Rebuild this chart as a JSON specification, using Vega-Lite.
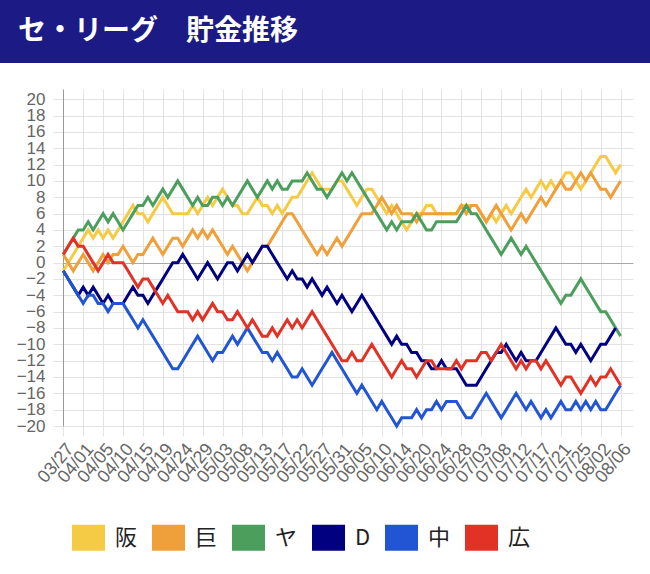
{
"$schema": "https://vega.github.io/schema/vega-lite/v6.json",
"background": "white",
"padding": 0,
"spacing": 26,
"config": {"font": "Liberation Sans", "view": {"stroke": null}},
"vconcat": [
{
"width": 650, "height": 63,
"view": {"fill": "#1c1a85", "stroke": null},
"data": {"values": [{"label": "セ・リーグ　貯金推移"}]},
"layer": [
{"mark": {"type": "rect", "color": "#1c1a85"}, "encoding": {}},
{"mark": {"type": "text", "align": "left", "baseline": "middle", "color": "white", "font": "Noto Sans CJK JP", "fontWeight": "bold", "fontSize": 28},
 "encoding": {"text": {"field": "label"}, "x": {"value": 18}, "y": {"value": 32}}}
]
},
{
"width": 633, "height": 337,
"data": {"values": [
{"t":"阪","g":0,"v":-1},{"t":"阪","g":1,"v":0},{"t":"阪","g":2,"v":1},{"t":"阪","g":3,"v":2},{"t":"阪","g":4,"v":3},{"t":"阪","g":5,"v":4},{"t":"阪","g":6,"v":3},{"t":"阪","g":7,"v":4},{"t":"阪","g":8,"v":3},{"t":"阪","g":9,"v":4},
{"t":"阪","g":10,"v":3},{"t":"阪","g":11,"v":4},{"t":"阪","g":12,"v":5},{"t":"阪","g":13,"v":6},{"t":"阪","g":14,"v":7},{"t":"阪","g":15,"v":6},{"t":"阪","g":16,"v":6},{"t":"阪","g":17,"v":5},{"t":"阪","g":18,"v":6},{"t":"阪","g":19,"v":7},
{"t":"阪","g":20,"v":8},{"t":"阪","g":21,"v":7},{"t":"阪","g":22,"v":6},{"t":"阪","g":23,"v":6},{"t":"阪","g":24,"v":6},{"t":"阪","g":25,"v":6},{"t":"阪","g":26,"v":7},{"t":"阪","g":27,"v":6},{"t":"阪","g":28,"v":7},{"t":"阪","g":29,"v":8},
{"t":"阪","g":30,"v":7},{"t":"阪","g":31,"v":8},{"t":"阪","g":32,"v":9},{"t":"阪","g":33,"v":8},{"t":"阪","g":34,"v":7},{"t":"阪","g":35,"v":7},{"t":"阪","g":36,"v":6},{"t":"阪","g":37,"v":6},{"t":"阪","g":38,"v":7},{"t":"阪","g":39,"v":8},
{"t":"阪","g":40,"v":7},{"t":"阪","g":41,"v":7},{"t":"阪","g":42,"v":6},{"t":"阪","g":43,"v":7},{"t":"阪","g":44,"v":6},{"t":"阪","g":45,"v":7},{"t":"阪","g":46,"v":8},{"t":"阪","g":47,"v":8},{"t":"阪","g":48,"v":9},{"t":"阪","g":49,"v":10},
{"t":"阪","g":50,"v":11},{"t":"阪","g":51,"v":10},{"t":"阪","g":52,"v":9},{"t":"阪","g":53,"v":9},{"t":"阪","g":54,"v":9},{"t":"阪","g":55,"v":10},{"t":"阪","g":56,"v":10},{"t":"阪","g":57,"v":9},{"t":"阪","g":58,"v":8},{"t":"阪","g":59,"v":7},
{"t":"阪","g":60,"v":8},{"t":"阪","g":61,"v":9},{"t":"阪","g":62,"v":9},{"t":"阪","g":63,"v":8},{"t":"阪","g":64,"v":7},{"t":"阪","g":65,"v":6},{"t":"阪","g":66,"v":7},{"t":"阪","g":67,"v":6},{"t":"阪","g":68,"v":5},{"t":"阪","g":69,"v":4},
{"t":"阪","g":70,"v":5},{"t":"阪","g":71,"v":6},{"t":"阪","g":72,"v":6},{"t":"阪","g":73,"v":7},{"t":"阪","g":74,"v":7},{"t":"阪","g":75,"v":6},{"t":"阪","g":76,"v":6},{"t":"阪","g":77,"v":6},{"t":"阪","g":78,"v":6},{"t":"阪","g":79,"v":6},
{"t":"阪","g":80,"v":7},{"t":"阪","g":81,"v":7},{"t":"阪","g":82,"v":7},{"t":"阪","g":83,"v":7},{"t":"阪","g":84,"v":6},{"t":"阪","g":85,"v":5},{"t":"阪","g":86,"v":6},{"t":"阪","g":87,"v":5},{"t":"阪","g":88,"v":6},{"t":"阪","g":89,"v":7},
{"t":"阪","g":90,"v":6},{"t":"阪","g":91,"v":7},{"t":"阪","g":92,"v":8},{"t":"阪","g":93,"v":9},{"t":"阪","g":94,"v":8},{"t":"阪","g":95,"v":9},{"t":"阪","g":96,"v":10},{"t":"阪","g":97,"v":9},{"t":"阪","g":98,"v":10},{"t":"阪","g":99,"v":9},
{"t":"阪","g":100,"v":10},{"t":"阪","g":101,"v":11},{"t":"阪","g":102,"v":11},{"t":"阪","g":103,"v":10},{"t":"阪","g":104,"v":9},{"t":"阪","g":105,"v":10},{"t":"阪","g":106,"v":11},{"t":"阪","g":107,"v":12},{"t":"阪","g":108,"v":13},{"t":"阪","g":109,"v":13},
{"t":"阪","g":110,"v":12},{"t":"阪","g":111,"v":11},{"t":"阪","g":112,"v":12},
{"t":"巨","g":0,"v":1},{"t":"巨","g":1,"v":0},{"t":"巨","g":2,"v":-1},{"t":"巨","g":3,"v":0},{"t":"巨","g":4,"v":1},{"t":"巨","g":5,"v":0},{"t":"巨","g":6,"v":-1},{"t":"巨","g":7,"v":0},{"t":"巨","g":8,"v":1},{"t":"巨","g":9,"v":0},
{"t":"巨","g":10,"v":1},{"t":"巨","g":11,"v":1},{"t":"巨","g":12,"v":2},{"t":"巨","g":13,"v":1},{"t":"巨","g":14,"v":0},{"t":"巨","g":15,"v":1},{"t":"巨","g":16,"v":1},{"t":"巨","g":17,"v":2},{"t":"巨","g":18,"v":3},{"t":"巨","g":19,"v":2},
{"t":"巨","g":20,"v":1},{"t":"巨","g":21,"v":2},{"t":"巨","g":22,"v":3},{"t":"巨","g":23,"v":3},{"t":"巨","g":24,"v":2},{"t":"巨","g":25,"v":3},{"t":"巨","g":26,"v":4},{"t":"巨","g":27,"v":3},{"t":"巨","g":28,"v":4},{"t":"巨","g":29,"v":3},
{"t":"巨","g":30,"v":4},{"t":"巨","g":31,"v":3},{"t":"巨","g":32,"v":2},{"t":"巨","g":33,"v":1},{"t":"巨","g":34,"v":2},{"t":"巨","g":35,"v":1},{"t":"巨","g":36,"v":0},{"t":"巨","g":37,"v":-1},{"t":"巨","g":38,"v":0},{"t":"巨","g":39,"v":1},
{"t":"巨","g":40,"v":2},{"t":"巨","g":41,"v":2},{"t":"巨","g":42,"v":3},{"t":"巨","g":43,"v":4},{"t":"巨","g":44,"v":5},{"t":"巨","g":45,"v":6},{"t":"巨","g":46,"v":6},{"t":"巨","g":47,"v":5},{"t":"巨","g":48,"v":4},{"t":"巨","g":49,"v":3},
{"t":"巨","g":50,"v":2},{"t":"巨","g":51,"v":1},{"t":"巨","g":52,"v":2},{"t":"巨","g":53,"v":1},{"t":"巨","g":54,"v":2},{"t":"巨","g":55,"v":3},{"t":"巨","g":56,"v":2},{"t":"巨","g":57,"v":3},{"t":"巨","g":58,"v":4},{"t":"巨","g":59,"v":5},
{"t":"巨","g":60,"v":6},{"t":"巨","g":61,"v":6},{"t":"巨","g":62,"v":6},{"t":"巨","g":63,"v":7},{"t":"巨","g":64,"v":8},{"t":"巨","g":65,"v":7},{"t":"巨","g":66,"v":6},{"t":"巨","g":67,"v":7},{"t":"巨","g":68,"v":6},{"t":"巨","g":69,"v":6},
{"t":"巨","g":70,"v":6},{"t":"巨","g":71,"v":5},{"t":"巨","g":72,"v":6},{"t":"巨","g":73,"v":6},{"t":"巨","g":74,"v":6},{"t":"巨","g":75,"v":6},{"t":"巨","g":76,"v":6},{"t":"巨","g":77,"v":6},{"t":"巨","g":78,"v":6},{"t":"巨","g":79,"v":6},
{"t":"巨","g":80,"v":7},{"t":"巨","g":81,"v":6},{"t":"巨","g":82,"v":7},{"t":"巨","g":83,"v":7},{"t":"巨","g":84,"v":6},{"t":"巨","g":85,"v":5},{"t":"巨","g":86,"v":6},{"t":"巨","g":87,"v":7},{"t":"巨","g":88,"v":6},{"t":"巨","g":89,"v":5},
{"t":"巨","g":90,"v":4},{"t":"巨","g":91,"v":5},{"t":"巨","g":92,"v":6},{"t":"巨","g":93,"v":5},{"t":"巨","g":94,"v":6},{"t":"巨","g":95,"v":7},{"t":"巨","g":96,"v":8},{"t":"巨","g":97,"v":7},{"t":"巨","g":98,"v":8},{"t":"巨","g":99,"v":9},
{"t":"巨","g":100,"v":10},{"t":"巨","g":101,"v":9},{"t":"巨","g":102,"v":9},{"t":"巨","g":103,"v":10},{"t":"巨","g":104,"v":11},{"t":"巨","g":105,"v":10},{"t":"巨","g":106,"v":11},{"t":"巨","g":107,"v":10},{"t":"巨","g":108,"v":9},{"t":"巨","g":109,"v":9},
{"t":"巨","g":110,"v":8},{"t":"巨","g":111,"v":9},{"t":"巨","g":112,"v":10},
{"t":"ヤ","g":0,"v":1},{"t":"ヤ","g":1,"v":2},{"t":"ヤ","g":2,"v":3},{"t":"ヤ","g":3,"v":4},{"t":"ヤ","g":4,"v":4},{"t":"ヤ","g":5,"v":5},{"t":"ヤ","g":6,"v":4},{"t":"ヤ","g":7,"v":5},{"t":"ヤ","g":8,"v":6},{"t":"ヤ","g":9,"v":5},
{"t":"ヤ","g":10,"v":6},{"t":"ヤ","g":11,"v":5},{"t":"ヤ","g":12,"v":4},{"t":"ヤ","g":13,"v":5},{"t":"ヤ","g":14,"v":6},{"t":"ヤ","g":15,"v":7},{"t":"ヤ","g":16,"v":7},{"t":"ヤ","g":17,"v":8},{"t":"ヤ","g":18,"v":7},{"t":"ヤ","g":19,"v":8},
{"t":"ヤ","g":20,"v":9},{"t":"ヤ","g":21,"v":8},{"t":"ヤ","g":22,"v":9},{"t":"ヤ","g":23,"v":10},{"t":"ヤ","g":24,"v":9},{"t":"ヤ","g":25,"v":8},{"t":"ヤ","g":26,"v":7},{"t":"ヤ","g":27,"v":8},{"t":"ヤ","g":28,"v":7},{"t":"ヤ","g":29,"v":7},
{"t":"ヤ","g":30,"v":8},{"t":"ヤ","g":31,"v":8},{"t":"ヤ","g":32,"v":7},{"t":"ヤ","g":33,"v":8},{"t":"ヤ","g":34,"v":7},{"t":"ヤ","g":35,"v":8},{"t":"ヤ","g":36,"v":9},{"t":"ヤ","g":37,"v":10},{"t":"ヤ","g":38,"v":9},{"t":"ヤ","g":39,"v":8},
{"t":"ヤ","g":40,"v":9},{"t":"ヤ","g":41,"v":10},{"t":"ヤ","g":42,"v":9},{"t":"ヤ","g":43,"v":10},{"t":"ヤ","g":44,"v":9},{"t":"ヤ","g":45,"v":9},{"t":"ヤ","g":46,"v":10},{"t":"ヤ","g":47,"v":10},{"t":"ヤ","g":48,"v":10},{"t":"ヤ","g":49,"v":11},
{"t":"ヤ","g":50,"v":10},{"t":"ヤ","g":51,"v":9},{"t":"ヤ","g":52,"v":9},{"t":"ヤ","g":53,"v":8},{"t":"ヤ","g":54,"v":9},{"t":"ヤ","g":55,"v":10},{"t":"ヤ","g":56,"v":11},{"t":"ヤ","g":57,"v":10},{"t":"ヤ","g":58,"v":11},{"t":"ヤ","g":59,"v":10},
{"t":"ヤ","g":60,"v":9},{"t":"ヤ","g":61,"v":8},{"t":"ヤ","g":62,"v":7},{"t":"ヤ","g":63,"v":6},{"t":"ヤ","g":64,"v":5},{"t":"ヤ","g":65,"v":4},{"t":"ヤ","g":66,"v":5},{"t":"ヤ","g":67,"v":4},{"t":"ヤ","g":68,"v":5},{"t":"ヤ","g":69,"v":5},
{"t":"ヤ","g":70,"v":5},{"t":"ヤ","g":71,"v":6},{"t":"ヤ","g":72,"v":5},{"t":"ヤ","g":73,"v":4},{"t":"ヤ","g":74,"v":4},{"t":"ヤ","g":75,"v":5},{"t":"ヤ","g":76,"v":5},{"t":"ヤ","g":77,"v":5},{"t":"ヤ","g":78,"v":5},{"t":"ヤ","g":79,"v":5},
{"t":"ヤ","g":80,"v":6},{"t":"ヤ","g":81,"v":7},{"t":"ヤ","g":82,"v":6},{"t":"ヤ","g":83,"v":6},{"t":"ヤ","g":84,"v":5},{"t":"ヤ","g":85,"v":4},{"t":"ヤ","g":86,"v":3},{"t":"ヤ","g":87,"v":2},{"t":"ヤ","g":88,"v":1},{"t":"ヤ","g":89,"v":2},
{"t":"ヤ","g":90,"v":3},{"t":"ヤ","g":91,"v":2},{"t":"ヤ","g":92,"v":1},{"t":"ヤ","g":93,"v":2},{"t":"ヤ","g":94,"v":1},{"t":"ヤ","g":95,"v":0},{"t":"ヤ","g":96,"v":-1},{"t":"ヤ","g":97,"v":-2},{"t":"ヤ","g":98,"v":-3},{"t":"ヤ","g":99,"v":-4},
{"t":"ヤ","g":100,"v":-5},{"t":"ヤ","g":101,"v":-4},{"t":"ヤ","g":102,"v":-4},{"t":"ヤ","g":103,"v":-3},{"t":"ヤ","g":104,"v":-2},{"t":"ヤ","g":105,"v":-3},{"t":"ヤ","g":106,"v":-4},{"t":"ヤ","g":107,"v":-5},{"t":"ヤ","g":108,"v":-6},{"t":"ヤ","g":109,"v":-6},
{"t":"ヤ","g":110,"v":-7},{"t":"ヤ","g":111,"v":-8},{"t":"ヤ","g":112,"v":-9},
{"t":"D","g":0,"v":-1},{"t":"D","g":1,"v":-2},{"t":"D","g":2,"v":-3},{"t":"D","g":3,"v":-4},{"t":"D","g":4,"v":-3},{"t":"D","g":5,"v":-4},{"t":"D","g":6,"v":-3},{"t":"D","g":7,"v":-4},{"t":"D","g":8,"v":-5},{"t":"D","g":9,"v":-4},
{"t":"D","g":10,"v":-5},{"t":"D","g":11,"v":-5},{"t":"D","g":12,"v":-5},{"t":"D","g":13,"v":-4},{"t":"D","g":14,"v":-3},{"t":"D","g":15,"v":-4},{"t":"D","g":16,"v":-4},{"t":"D","g":17,"v":-5},{"t":"D","g":18,"v":-4},{"t":"D","g":19,"v":-3},
{"t":"D","g":20,"v":-2},{"t":"D","g":21,"v":-1},{"t":"D","g":22,"v":0},{"t":"D","g":23,"v":0},{"t":"D","g":24,"v":1},{"t":"D","g":25,"v":0},{"t":"D","g":26,"v":-1},{"t":"D","g":27,"v":-2},{"t":"D","g":28,"v":-1},{"t":"D","g":29,"v":0},
{"t":"D","g":30,"v":-1},{"t":"D","g":31,"v":-2},{"t":"D","g":32,"v":-1},{"t":"D","g":33,"v":0},{"t":"D","g":34,"v":0},{"t":"D","g":35,"v":-1},{"t":"D","g":36,"v":0},{"t":"D","g":37,"v":1},{"t":"D","g":38,"v":0},{"t":"D","g":39,"v":1},
{"t":"D","g":40,"v":2},{"t":"D","g":41,"v":2},{"t":"D","g":42,"v":1},{"t":"D","g":43,"v":0},{"t":"D","g":44,"v":-1},{"t":"D","g":45,"v":-2},{"t":"D","g":46,"v":-1},{"t":"D","g":47,"v":-2},{"t":"D","g":48,"v":-2},{"t":"D","g":49,"v":-3},
{"t":"D","g":50,"v":-2},{"t":"D","g":51,"v":-3},{"t":"D","g":52,"v":-4},{"t":"D","g":53,"v":-3},{"t":"D","g":54,"v":-4},{"t":"D","g":55,"v":-5},{"t":"D","g":56,"v":-4},{"t":"D","g":57,"v":-5},{"t":"D","g":58,"v":-6},{"t":"D","g":59,"v":-5},
{"t":"D","g":60,"v":-4},{"t":"D","g":61,"v":-5},{"t":"D","g":62,"v":-6},{"t":"D","g":63,"v":-7},{"t":"D","g":64,"v":-8},{"t":"D","g":65,"v":-9},{"t":"D","g":66,"v":-10},{"t":"D","g":67,"v":-9},{"t":"D","g":68,"v":-10},{"t":"D","g":69,"v":-10},
{"t":"D","g":70,"v":-11},{"t":"D","g":71,"v":-11},{"t":"D","g":72,"v":-12},{"t":"D","g":73,"v":-12},{"t":"D","g":74,"v":-13},{"t":"D","g":75,"v":-13},{"t":"D","g":76,"v":-12},{"t":"D","g":77,"v":-13},{"t":"D","g":78,"v":-13},{"t":"D","g":79,"v":-13},
{"t":"D","g":80,"v":-14},{"t":"D","g":81,"v":-15},{"t":"D","g":82,"v":-15},{"t":"D","g":83,"v":-15},{"t":"D","g":84,"v":-14},{"t":"D","g":85,"v":-13},{"t":"D","g":86,"v":-12},{"t":"D","g":87,"v":-11},{"t":"D","g":88,"v":-11},{"t":"D","g":89,"v":-10},
{"t":"D","g":90,"v":-11},{"t":"D","g":91,"v":-12},{"t":"D","g":92,"v":-11},{"t":"D","g":93,"v":-12},{"t":"D","g":94,"v":-12},{"t":"D","g":95,"v":-12},{"t":"D","g":96,"v":-11},{"t":"D","g":97,"v":-10},{"t":"D","g":98,"v":-9},{"t":"D","g":99,"v":-8},
{"t":"D","g":100,"v":-9},{"t":"D","g":101,"v":-10},{"t":"D","g":102,"v":-10},{"t":"D","g":103,"v":-11},{"t":"D","g":104,"v":-10},{"t":"D","g":105,"v":-11},{"t":"D","g":106,"v":-12},{"t":"D","g":107,"v":-11},{"t":"D","g":108,"v":-10},{"t":"D","g":109,"v":-10},
{"t":"D","g":110,"v":-9},{"t":"D","g":111,"v":-8},
{"t":"中","g":0,"v":-1},{"t":"中","g":1,"v":-2},{"t":"中","g":2,"v":-3},{"t":"中","g":3,"v":-4},{"t":"中","g":4,"v":-5},{"t":"中","g":5,"v":-4},{"t":"中","g":6,"v":-4},{"t":"中","g":7,"v":-5},{"t":"中","g":8,"v":-5},{"t":"中","g":9,"v":-6},
{"t":"中","g":10,"v":-5},{"t":"中","g":11,"v":-5},{"t":"中","g":12,"v":-5},{"t":"中","g":13,"v":-6},{"t":"中","g":14,"v":-7},{"t":"中","g":15,"v":-8},{"t":"中","g":16,"v":-7},{"t":"中","g":17,"v":-8},{"t":"中","g":18,"v":-9},{"t":"中","g":19,"v":-10},
{"t":"中","g":20,"v":-11},{"t":"中","g":21,"v":-12},{"t":"中","g":22,"v":-13},{"t":"中","g":23,"v":-13},{"t":"中","g":24,"v":-12},{"t":"中","g":25,"v":-11},{"t":"中","g":26,"v":-10},{"t":"中","g":27,"v":-9},{"t":"中","g":28,"v":-10},{"t":"中","g":29,"v":-11},
{"t":"中","g":30,"v":-12},{"t":"中","g":31,"v":-11},{"t":"中","g":32,"v":-11},{"t":"中","g":33,"v":-10},{"t":"中","g":34,"v":-9},{"t":"中","g":35,"v":-10},{"t":"中","g":36,"v":-9},{"t":"中","g":37,"v":-8},{"t":"中","g":38,"v":-9},{"t":"中","g":39,"v":-10},
{"t":"中","g":40,"v":-11},{"t":"中","g":41,"v":-11},{"t":"中","g":42,"v":-12},{"t":"中","g":43,"v":-11},{"t":"中","g":44,"v":-12},{"t":"中","g":45,"v":-13},{"t":"中","g":46,"v":-14},{"t":"中","g":47,"v":-14},{"t":"中","g":48,"v":-13},{"t":"中","g":49,"v":-14},
{"t":"中","g":50,"v":-15},{"t":"中","g":51,"v":-14},{"t":"中","g":52,"v":-13},{"t":"中","g":53,"v":-12},{"t":"中","g":54,"v":-11},{"t":"中","g":55,"v":-12},{"t":"中","g":56,"v":-13},{"t":"中","g":57,"v":-14},{"t":"中","g":58,"v":-15},{"t":"中","g":59,"v":-16},
{"t":"中","g":60,"v":-15},{"t":"中","g":61,"v":-16},{"t":"中","g":62,"v":-17},{"t":"中","g":63,"v":-18},{"t":"中","g":64,"v":-17},{"t":"中","g":65,"v":-18},{"t":"中","g":66,"v":-19},{"t":"中","g":67,"v":-20},{"t":"中","g":68,"v":-19},{"t":"中","g":69,"v":-19},
{"t":"中","g":70,"v":-19},{"t":"中","g":71,"v":-18},{"t":"中","g":72,"v":-19},{"t":"中","g":73,"v":-18},{"t":"中","g":74,"v":-18},{"t":"中","g":75,"v":-17},{"t":"中","g":76,"v":-18},{"t":"中","g":77,"v":-17},{"t":"中","g":78,"v":-17},{"t":"中","g":79,"v":-17},
{"t":"中","g":80,"v":-18},{"t":"中","g":81,"v":-19},{"t":"中","g":82,"v":-19},{"t":"中","g":83,"v":-18},{"t":"中","g":84,"v":-17},{"t":"中","g":85,"v":-16},{"t":"中","g":86,"v":-17},{"t":"中","g":87,"v":-18},{"t":"中","g":88,"v":-19},{"t":"中","g":89,"v":-18},
{"t":"中","g":90,"v":-17},{"t":"中","g":91,"v":-16},{"t":"中","g":92,"v":-17},{"t":"中","g":93,"v":-18},{"t":"中","g":94,"v":-17},{"t":"中","g":95,"v":-18},{"t":"中","g":96,"v":-19},{"t":"中","g":97,"v":-18},{"t":"中","g":98,"v":-19},{"t":"中","g":99,"v":-18},
{"t":"中","g":100,"v":-17},{"t":"中","g":101,"v":-18},{"t":"中","g":102,"v":-18},{"t":"中","g":103,"v":-17},{"t":"中","g":104,"v":-18},{"t":"中","g":105,"v":-17},{"t":"中","g":106,"v":-18},{"t":"中","g":107,"v":-17},{"t":"中","g":108,"v":-18},{"t":"中","g":109,"v":-18},
{"t":"中","g":110,"v":-17},{"t":"中","g":111,"v":-16},{"t":"中","g":112,"v":-15},
{"t":"広","g":0,"v":1},{"t":"広","g":1,"v":2},{"t":"広","g":2,"v":3},{"t":"広","g":3,"v":2},{"t":"広","g":4,"v":2},{"t":"広","g":5,"v":1},{"t":"広","g":6,"v":0},{"t":"広","g":7,"v":-1},{"t":"広","g":8,"v":0},{"t":"広","g":9,"v":1},
{"t":"広","g":10,"v":0},{"t":"広","g":11,"v":0},{"t":"広","g":12,"v":0},{"t":"広","g":13,"v":-1},{"t":"広","g":14,"v":-2},{"t":"広","g":15,"v":-3},{"t":"広","g":16,"v":-2},{"t":"広","g":17,"v":-2},{"t":"広","g":18,"v":-3},{"t":"広","g":19,"v":-4},
{"t":"広","g":20,"v":-5},{"t":"広","g":21,"v":-4},{"t":"広","g":22,"v":-5},{"t":"広","g":23,"v":-6},{"t":"広","g":24,"v":-6},{"t":"広","g":25,"v":-6},{"t":"広","g":26,"v":-7},{"t":"広","g":27,"v":-6},{"t":"広","g":28,"v":-7},{"t":"広","g":29,"v":-6},
{"t":"広","g":30,"v":-5},{"t":"広","g":31,"v":-6},{"t":"広","g":32,"v":-6},{"t":"広","g":33,"v":-7},{"t":"広","g":34,"v":-7},{"t":"広","g":35,"v":-6},{"t":"広","g":36,"v":-7},{"t":"広","g":37,"v":-8},{"t":"広","g":38,"v":-7},{"t":"広","g":39,"v":-8},
{"t":"広","g":40,"v":-9},{"t":"広","g":41,"v":-9},{"t":"広","g":42,"v":-8},{"t":"広","g":43,"v":-9},{"t":"広","g":44,"v":-8},{"t":"広","g":45,"v":-7},{"t":"広","g":46,"v":-8},{"t":"広","g":47,"v":-7},{"t":"広","g":48,"v":-8},{"t":"広","g":49,"v":-7},
{"t":"広","g":50,"v":-6},{"t":"広","g":51,"v":-7},{"t":"広","g":52,"v":-8},{"t":"広","g":53,"v":-9},{"t":"広","g":54,"v":-10},{"t":"広","g":55,"v":-11},{"t":"広","g":56,"v":-12},{"t":"広","g":57,"v":-12},{"t":"広","g":58,"v":-11},{"t":"広","g":59,"v":-12},
{"t":"広","g":60,"v":-12},{"t":"広","g":61,"v":-11},{"t":"広","g":62,"v":-10},{"t":"広","g":63,"v":-11},{"t":"広","g":64,"v":-12},{"t":"広","g":65,"v":-13},{"t":"広","g":66,"v":-14},{"t":"広","g":67,"v":-13},{"t":"広","g":68,"v":-12},{"t":"広","g":69,"v":-13},
{"t":"広","g":70,"v":-13},{"t":"広","g":71,"v":-14},{"t":"広","g":72,"v":-13},{"t":"広","g":73,"v":-12},{"t":"広","g":74,"v":-12},{"t":"広","g":75,"v":-13},{"t":"広","g":76,"v":-13},{"t":"広","g":77,"v":-13},{"t":"広","g":78,"v":-13},{"t":"広","g":79,"v":-12},
{"t":"広","g":80,"v":-13},{"t":"広","g":81,"v":-12},{"t":"広","g":82,"v":-12},{"t":"広","g":83,"v":-12},{"t":"広","g":84,"v":-11},{"t":"広","g":85,"v":-11},{"t":"広","g":86,"v":-12},{"t":"広","g":87,"v":-11},{"t":"広","g":88,"v":-10},{"t":"広","g":89,"v":-11},
{"t":"広","g":90,"v":-12},{"t":"広","g":91,"v":-13},{"t":"広","g":92,"v":-12},{"t":"広","g":93,"v":-13},{"t":"広","g":94,"v":-12},{"t":"広","g":95,"v":-12},{"t":"広","g":96,"v":-13},{"t":"広","g":97,"v":-12},{"t":"広","g":98,"v":-13},{"t":"広","g":99,"v":-14},
{"t":"広","g":100,"v":-15},{"t":"広","g":101,"v":-14},{"t":"広","g":102,"v":-14},{"t":"広","g":103,"v":-15},{"t":"広","g":104,"v":-16},{"t":"広","g":105,"v":-15},{"t":"広","g":106,"v":-14},{"t":"広","g":107,"v":-15},{"t":"広","g":108,"v":-14},{"t":"広","g":109,"v":-14},
{"t":"広","g":110,"v":-13},{"t":"広","g":111,"v":-14},{"t":"広","g":112,"v":-15}
]},
"resolve": {"axis": {"y": "independent"}},
"layer": [
{
"mark": {"type": "line", "opacity": 0},
"encoding": {
"x": {"field": "g", "type": "quantitative", "scale": {"domain": [-12.72, 114.49], "nice": false, "zero": false},
 "axis": {"title": null, "values": [0,4,8,12,16,20,24,28,32,36,40,44,48,52,56,60,64,68,72,76,80,84,88,92,96,100,104,108,112],
  "labelExpr": "['03/27','04/01','04/05','04/10','04/15','04/19','04/24','04/29','05/03','05/08','05/13','05/17','05/22','05/27','05/31','06/05','06/10','06/14','06/20','06/24','06/28','07/03','07/08','07/12','07/17','07/21','07/25','08/02','08/06'][round(datum.value/4)]",
  "labelAngle": -50, "labelAlign": "right", "labelBaseline": "top", "labelPadding": 4,
  "labelFontSize": 18, "labelColor": "#666666", "labelFont": "Liberation Sans",
  "labelOverlap": false, "labelFlush": false, "labelBound": false, "labelSeparation": 0,
  "grid": true, "gridColor": "#e3e3e3", "gridWidth": 1,
  "ticks": true, "tickSize": 10, "tickColor": "#e3e3e3",
  "domain": false}},
"y": {"field": "v", "type": "quantitative", "scale": {"domain": [-20, 21.26], "nice": false, "zero": false},
 "axis": {"orient": "right", "offset": -570, "title": null, "values": [-20,-18,-16,-14,-12,-10,-8,-6,-4,-2,0,2,4,6,8,10,12,14,16,18,20],
  "labels": false, "grid": false, "domain": false, "ticks": true, "tickSize": 570, "tickWidth": 1,
  "tickColor": {"condition": {"test": "datum.value === 0", "value": "#a8a8a8"}, "value": "#e3e3e3"},
  "minExtent": 0, "maxExtent": 0}}
}
},
{
"mark": {"type": "line", "strokeWidth": 3, "strokeJoin": "miter", "strokeCap": "butt"},
"encoding": {
"x": {"field": "g", "type": "quantitative",
 "axis": {"title": null, "values": [0,4,8,12,16,20,24,28,32,36,40,44,48,52,56,60,64,68,72,76,80,84,88,92,96,100,104,108,112],
  "labelExpr": "['03/27','04/01','04/05','04/10','04/15','04/19','04/24','04/29','05/03','05/08','05/13','05/17','05/22','05/27','05/31','06/05','06/10','06/14','06/20','06/24','06/28','07/03','07/08','07/12','07/17','07/21','07/25','08/02','08/06'][round(datum.value/4)]",
  "labelAngle": -50, "labelAlign": "right", "labelBaseline": "top", "labelPadding": 4,
  "labelFontSize": 18, "labelColor": "#666666", "labelFont": "Liberation Sans",
  "labelOverlap": false, "labelFlush": false, "labelBound": false, "labelSeparation": 0,
  "grid": true, "gridColor": "#e3e3e3", "gridWidth": 1,
  "ticks": true, "tickSize": 10, "tickColor": "#e3e3e3",
  "domain": false}},
"y": {"field": "v", "type": "quantitative",
 "axis": {"orient": "left", "offset": -63, "title": null, "values": [-20,-18,-16,-14,-12,-10,-8,-6,-4,-2,0,2,4,6,8,10,12,14,16,18,20],
  "labelFontSize": 17, "labelColor": "#666666", "labelFont": "Liberation Sans", "labelPadding": 8,
  "labelOverlap": false, "labelBound": false,
  "grid": false,
  "ticks": true, "tickSize": 10, "tickColor": "#e3e3e3",
  "domain": true, "domainColor": "#9a9a9a",
  "minExtent": 0, "maxExtent": 0}},
"color": {"field": "t", "type": "nominal",
 "scale": {"domain": ["阪","巨","ヤ","D","中","広"], "range": ["#f5cb45","#f0a03a","#4c9e5c","#000080","#2255d4","#e23226"]},
 "legend": {"title": null, "orient": "none", "legendX": 72, "legendY": 521, "direction": "horizontal",
  "symbolType": "M-1,-0.79L1,-0.79L1,0.79L-1,0.79Z", "symbolSize": 1089, "symbolStrokeWidth": 0, "symbolOpacity": 1,
  "labelFont": "Noto Sans CJK JP", "labelFontSize": 22, "labelColor": "#222222", "labelOffset": 10, "columnPadding": 14,
  "encode": {"symbols": {"update": {"fill": {"scale": "color", "field": "value"}, "stroke": {"value": "transparent"}, "strokeWidth": {"value": 0}, "opacity": {"value": 1}}}}}}
}
}
]
}
]
}
